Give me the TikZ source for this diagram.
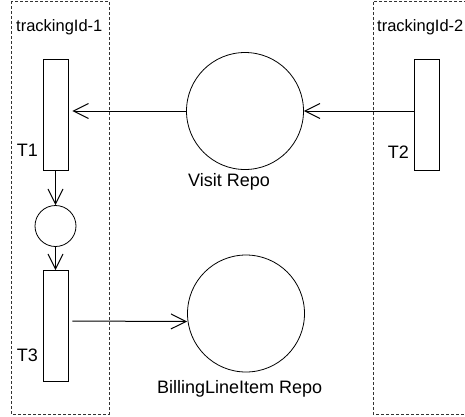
\documentclass[tikz,border=0pt]{standalone}
\usepackage{fontspec}
\setmainfont{Liberation Sans}
\usetikzlibrary{arrows.meta, positioning}

\tikzset{
	lane/.style={draw=black!80, dash pattern=on 3pt off 2pt, line width=0.8pt},
	lanelbl/.style={font=\fontsize{16.5}{20}\selectfont, inner sep=0pt, anchor=base west},
	trans/.style={draw, line width=0.8pt, minimum width=25pt, minimum height=111pt, inner sep=0pt},
	repo/.style={draw, circle, line width=0.8pt, minimum size=117pt, inner sep=0pt},
	place/.style={draw, circle, line width=0.8pt, minimum size=41pt, inner sep=0pt},
	flow/.style={line width=1pt, -{Straight Barb[length=15pt,width=15pt]}},
	lbl/.style={font=\fontsize{18}{21}\selectfont, inner sep=0pt},
}

\begin{document}
\begin{tikzpicture}[x=1pt, y=-1pt]
	\useasboundingbox (0,0) rectangle (465,416);

	\draw[lane]	(11,1) rectangle (109,414);
	\draw[lane]	(467,1) -| (373,414) -- (467,414);
	\node[lanelbl] (lane1) at (16,31) {trackingId-1};
	\node[lanelbl] (lane2) at (377,31) {trackingId-2};

	\node[trans]	(T1) at (55.5,114.5) {};
	\node[trans]	(T3) at (55.5,326) {};
	\node[trans]	(T2) at (426.5,114.5) {};
	\node[place]	(p1) at (55.5,226) {};
	\node[repo]	(visit) at (245,111) {};
	\node[repo]	(billing) at (246,313.5) {};

	\node[lbl, anchor=base east] (T1lbl) at (38,156) {T1};
	\node[lbl, anchor=base east] (T3lbl) at (38,361) {T3};
	\node[lbl, anchor=base east] (T2lbl) at (409,158) {T2};
	\node[lbl, anchor=base west] (visitlbl) at (188,186) {Visit Repo};
	\node[lbl, anchor=base west] (billinglbl) at (157,393) {BillingLineItem Repo};

	\draw[flow]	(T2.west |- visit.east) -- (visit.east);
	\draw[flow, shorten >=4pt]	(visit.west) -- (visit.west -| T1.east);
	\draw[flow]	(T1.south) -- (p1.north);
	\draw[flow]	(p1.south) -- (T3.north);
	\draw[flow, shorten <=4pt]	([yshift=5pt]T3.east) -- ([yshift=-8pt]billing.west);
\end{tikzpicture}
\end{document}
